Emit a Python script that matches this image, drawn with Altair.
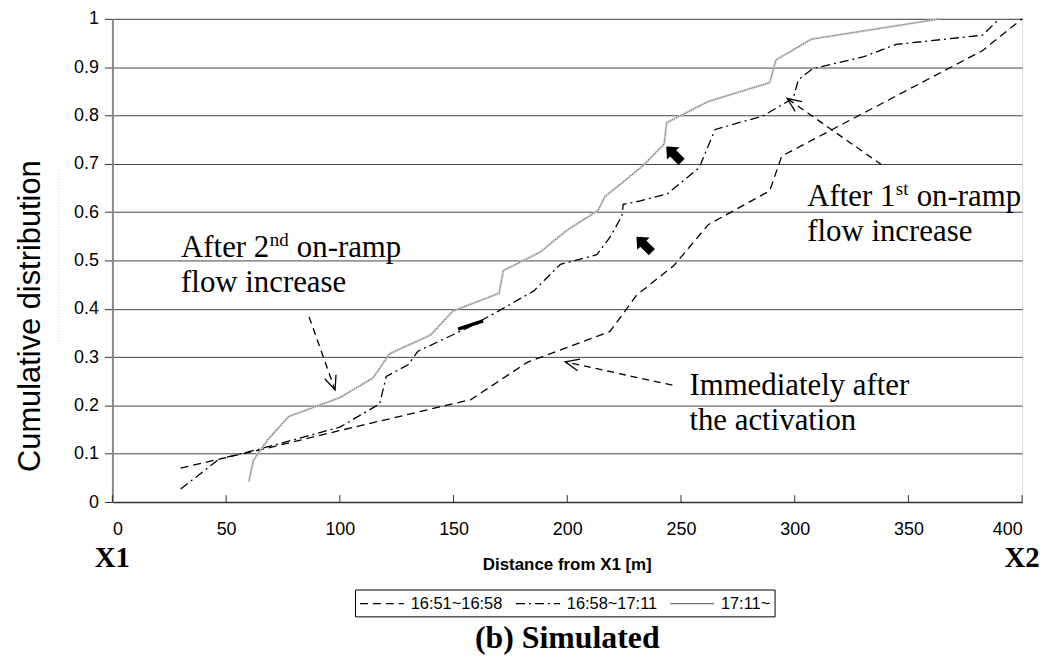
import math
import altair as alt
import pandas as pd

# ---------------- data ----------------
series_names = ["16:51~16:58", "16:58~17:11", "17:11~"]

s1_x = [30, 48, 65, 100, 157.6, 182.4, 218.8, 230.5, 247, 262, 289, 294.3, 382.5, 400]
s1_y = [0.07, 0.09, 0.108, 0.148, 0.212, 0.289, 0.353, 0.428, 0.49, 0.574, 0.644, 0.716, 0.934, 1.0]

s2_x = [30, 47, 65, 100, 117.5, 120.4, 130, 134.3, 156, 167.8, 185.3, 197, 213, 218.8,
        224, 224.6, 232, 244, 258, 265, 286, 299.4, 301.6, 308, 330, 344.6, 382.5, 390]
s2_y = [0.027, 0.089, 0.11, 0.155, 0.203, 0.26, 0.284, 0.312, 0.36, 0.39, 0.437, 0.492, 0.512, 0.548,
        0.592, 0.616, 0.623, 0.638, 0.692, 0.771, 0.799, 0.836, 0.874, 0.897, 0.921, 0.947, 0.966, 1.0]

s3_x = [60, 62, 68.5, 77.5, 100, 114.6, 121.9, 140, 149.6, 170, 171.9, 188, 200, 213.7,
        216.5, 224, 233, 237, 242.6, 243.7, 262, 289, 291.8, 307.4, 364]
s3_y = [0.042, 0.086, 0.13, 0.177, 0.216, 0.257, 0.307, 0.346, 0.395, 0.432, 0.479, 0.517, 0.563, 0.604,
        0.632, 0.66, 0.695, 0.714, 0.741, 0.785, 0.829, 0.868, 0.915, 0.958, 1.0]

x_ticks = [0, 50, 100, 150, 200, 250, 300, 350, 400]
y_ticks = [0, 0.1, 0.2, 0.3, 0.4, 0.5, 0.6, 0.7, 0.8, 0.9, 1]

# annotation arrows (dashed, open head) : tail -> tip
arrow_tail_x = [86.5, 338.2, 246.2]
arrow_tail_y = [0.383, 0.698, 0.242]
arrow_tip_x = [97.9, 296.7, 199.1]
arrow_tip_y = [0.232, 0.835, 0.29]

# block arrows
block_x = [233.8, 246.9]
block_y = [0.533, 0.72]

# short thick stroke
blip_x = [152, 163]
blip_y = [0.358, 0.375]

# annotation texts
ann_x = [30.2, 30.2, 305.5, 305.5, 253.7, 253.7]
ann_y = [0.5077, 0.4343, 0.6125, 0.5406, 0.222, 0.150]
ann_text = ["After 2", "flow increase", "After 1", "flow increase", "Immediately after", "the activation"]
sup_x = [30.2, 305.5]
sup_y = [0.5077, 0.6125]
sup_text = ["nd", "st"]
rest_text = ["on-ramp", "on-ramp"]

# ---------------- styling ----------------
W, H = 915, 486
SANS = "Liberation Sans"
SERIF = "Liberation Serif"
BIG = 31

rows = []
for name, xs_, ys_ in zip(series_names, [s1_x, s2_x, s3_x], [s1_y, s2_y, s3_y]):
    for i, (xv, yv) in enumerate(zip(xs_, ys_)):
        rows.append(dict(series=name, x=xv, y=yv, i=i))
df = pd.DataFrame(rows)
df3 = df[df.series == series_names[2]]

x_axis = alt.Axis(values=x_ticks, grid=False, ticks=False, domainColor="#333", domainWidth=1.5,
                  labelFont=SANS, labelFontSize=18, labelColor="black", labelPadding=19, title=None)
y_axis = alt.Axis(values=y_ticks, grid=True, gridColor="#444", gridWidth=1, tickSize=8, tickColor="#333",
                  domainColor="#888", domainWidth=2, labelFont=SANS, labelFontSize=18, labelColor="black",
                  labelPadding=6, format="~g", title=None)
xs = alt.Scale(domain=[0, 400], nice=False, zero=False)
ys = alt.Scale(domain=[0, 1], nice=False)
X = alt.X("x:Q", scale=xs, axis=x_axis)
Y = alt.Y("y:Q", scale=ys, axis=y_axis)

thick_sig = "(datum.value === '{0}' || datum.label === '{0}') ? 6 : 1.3".format(series_names[2])
# legend symbol: a 44px horizontal stroke starting at the entry's left edge
legend = alt.Legend(title=None, orient="none", legendX=244, legendY=574, direction="horizontal",
                    symbolType="M-1,0 L3.9,0", symbolSize=324, labelFont=SANS, labelFontSize=16.5,
                    labelColor="black", strokeColor="black", padding=4, columnPadding=10, labelOffset=32,
                    symbolStrokeWidth=alt.ExprRef(expr=thick_sig))

lines = alt.Chart(df).mark_line().encode(
    x=X, y=Y,
    color=alt.Color("series:N", scale=alt.Scale(domain=series_names, range=["black", "black", "#737373"]), legend=legend),
    strokeDash=alt.StrokeDash("series:N", scale=alt.Scale(domain=series_names, range=[[8, 5], [9, 4, 2, 4], [1, 0]]), legend=legend),
    strokeWidth=alt.StrokeWidth("series:N", scale=alt.Scale(domain=series_names, range=[1.3, 1.3, 6]), legend=None),
    order="i:Q",
)
overlay = alt.Chart(df3).mark_line(color="#d0d0d0", strokeWidth=2.8, strokeDash=[1.2, 1.2]).encode(
    x=X, y=Y, order="i:Q")

blip = alt.Chart(pd.DataFrame({"x": blip_x, "y": blip_y})).mark_line(color="black", strokeWidth=3.5).encode(x=X, y=Y)

tick_df = pd.DataFrame({"x": x_ticks})
xticks = alt.Chart(tick_df).mark_rule(color="#333", strokeWidth=1).encode(x=X, y=alt.value(H), y2=alt.value(H - 7))

# arrows
ang = []
for tx, ty, hx, hy in zip(arrow_tail_x, arrow_tail_y, arrow_tip_x, arrow_tip_y):
    dx = (hx - tx) * W / 400.0
    dy = -(hy - ty) * H
    ang.append(math.degrees(math.atan2(dx, -dy)) % 360)
arr_df = pd.DataFrame({"x": arrow_tail_x, "y": arrow_tail_y, "x2": arrow_tip_x, "y2": arrow_tip_y})
arrows = alt.Chart(arr_df).mark_rule(color="black", strokeWidth=1.3, strokeDash=[7, 5]).encode(
    x=X, y=Y, x2="x2:Q", y2="y2:Q")
head_df = pd.DataFrame({"x": arrow_tip_x, "y": arrow_tip_y, "ang": ang})
heads = alt.Chart(head_df).mark_point(shape="M-0.6,1.4 L0,0 L0.6,1.4", filled=False, color="black",
                                       strokeWidth=1.3, size=400, opacity=1).encode(
    x=X, y=Y, angle=alt.Angle("ang:Q", scale=None))

block_path = "M0,-1 L0.8,-0.1 L0.4,-0.1 L0.4,1 L-0.4,1 L-0.4,-0.1 L-0.8,-0.1 Z"
blocks = alt.Chart(pd.DataFrame({"x": block_x, "y": block_y})).mark_point(
    shape=block_path, filled=True, color="black", size=480, angle=315, opacity=1).encode(x=X, y=Y)

# annotation texts
def width_times(s, size):
    w = {"A": .722, "f": .333, "t": .278, "e": .444, "r": .333, " ": .25, "1": .5, "2": .5,
         "n": .5, "d": .5, "s": .389}
    return sum(w.get(c, .5) for c in s) * size

ann = alt.Chart(pd.DataFrame({"x": ann_x, "y": ann_y, "t": ann_text})).mark_text(
    font=SERIF, fontSize=BIG, align="left", baseline="alphabetic", color="black").encode(x=X, y=Y, text="t:N")
sup_layers = []
for sx, sy, st, rt in zip(sup_x, sup_y, sup_text, rest_text):
    base_w = width_times("After 2", BIG)
    sw = width_times(st, 19)
    d1 = pd.DataFrame({"x": [sx], "y": [sy], "t": [st]})
    d2 = pd.DataFrame({"x": [sx], "y": [sy], "t": [rt]})
    sup_layers.append(alt.Chart(d1).mark_text(font=SERIF, fontSize=19, align="left", baseline="alphabetic",
                                              dx=base_w + 0.5, dy=-11, color="black").encode(x=X, y=Y, text="t:N"))
    sup_layers.append(alt.Chart(d2).mark_text(font=SERIF, fontSize=BIG, align="left", baseline="alphabetic",
                                              dx=base_w + sw + 0.25 * BIG + 1, color="black").encode(x=X, y=Y, text="t:N"))

# frame texts
xlab = alt.Chart(pd.DataFrame({"x": [0, 400], "t": ["X1", "X2"]})).mark_text(
    font=SERIF, fontSize=29, fontWeight="bold", align="center", baseline="middle", color="black").encode(
    x=X, y=alt.value(542), text="t:N")
xtitle = alt.Chart(pd.DataFrame({"x": [200], "t": ["Distance from X1 [m]"]})).mark_text(
    font=SANS, fontSize=17, fontWeight="bold", align="center", baseline="middle", color="black").encode(
    x=X, y=alt.value(549), text="t:N")
title = alt.Chart(pd.DataFrame({"x": [200], "t": ["(b) Simulated"]})).mark_text(
    font=SERIF, fontSize=32, fontWeight="bold", align="center", baseline="middle", color="black").encode(
    x=X, y=alt.value(623), text="t:N")
ytitle = alt.Chart(pd.DataFrame({"t": ["Cumulative distribution"]})).mark_text(
    font=SANS, fontSize=31, angle=270, align="center", baseline="middle", color="black").encode(
    x=alt.value(-82), y=alt.value(299), text="t:N")
faint = alt.Chart(pd.DataFrame({"a": [0]})).mark_rule(color="#c8c8c8", strokeDash=[1, 2]).encode(
    x=alt.value(-54), y=alt.value(152), y2=alt.value(328))

chart = alt.layer(
    lines, overlay, blip, xticks, arrows, heads, blocks, ann, *sup_layers, xlab, xtitle, title, ytitle, faint
).properties(
    width=W, height=H,
    autosize=alt.AutoSizeParams(type="none"),
    padding={"left": 105, "top": 9, "right": 24, "bottom": 158},
).configure_view(stroke=None).configure(background="white")

chart.save("out.html", embed_options={"renderer": "svg", "actions": False})
